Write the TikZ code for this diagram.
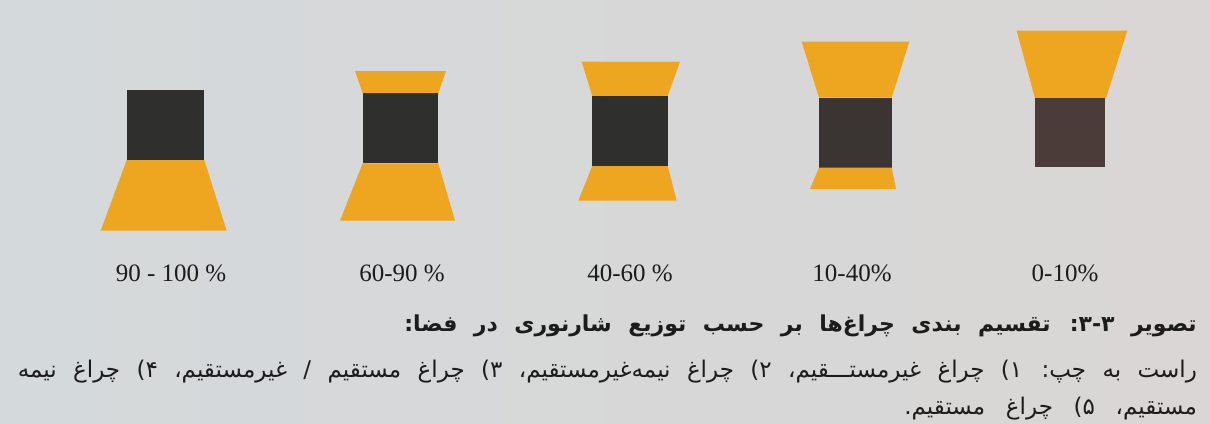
\documentclass[tikz,border=0pt]{standalone}
\usepackage{fontspec}
\setmainfont{Liberation Serif}
\newfontfamily\arabicfont[Script=Arabic]{DejaVu Sans}
\TeXXeTstate=1
\definecolor{lamporange}{HTML}{EEA620}
\definecolor{lampdark}{HTML}{2F2F2E}
\definecolor{lampdarkb}{HTML}{3A3433}
\definecolor{lampbrown}{HTML}{4B3B39}
\definecolor{inkgray}{HTML}{1C1C1C}
\definecolor{paperL}{HTML}{D4D9DB}
\definecolor{paperR}{HTML}{DAD6D5}
\begin{document}
\begin{tikzpicture}[x=1pt,y=-1pt,
  glow/.style={fill=lamporange},
  body/.style={fill=lampdark},
  pct/.style={font=\fontsize{25}{30}\selectfont, text=inkgray, anchor=base, inner sep=0pt},
  fa/.style={text=inkgray, anchor=base east, inner sep=0pt}]
\fill[left color=paperL,right color=paperR] (0,0) rectangle (1210,423);
\useasboundingbox (0,0) rectangle (1210,423);
% lamp 1
\fill[body] (126.7,90) rectangle (204.3,160);
\fill[glow] (126.7,160) -- (204.3,160) -- (226.7,230.7) -- (100.7,230.7) -- cycle;
% lamp 2
\fill[glow] (355,71) -- (446,71) -- (438.3,93.3) -- (362.7,93.3) -- cycle;
\fill[body] (362.7,93.3) rectangle (438.3,163.3);
\fill[glow] (362.7,163.3) -- (438.3,163.3) -- (455,220.7) -- (340,220.7) -- cycle;
% lamp 3
\fill[glow] (581.7,61.7) -- (680,61.7) -- (667.7,96) -- (592.3,96) -- cycle;
\fill[body] (592.3,96) rectangle (667.7,166);
\fill[glow] (592.3,166) -- (667.7,166) -- (676.7,200.7) -- (578.3,200.7) -- cycle;
% lamp 4
\fill[glow] (801.7,41.7) -- (909.3,41.7) -- (891.7,97.7) -- (819,97.7) -- cycle;
\fill[body, fill=lampdarkb] (819,97.7) rectangle (891.7,167.7);
\fill[glow] (819,167.7) -- (891.7,167.7) -- (896,189) -- (810,189) -- cycle;
% lamp 5
\fill[glow] (1016.7,30.7) -- (1127.3,30.7) -- (1106,98.3) -- (1035,98.3) -- cycle;
\fill[body, fill=lampbrown] (1035,98.3) rectangle (1105,166.7);
% labels
\node[pct] (p1) at (171,281) {90 - 100 \%};
\node[pct] (p2) at (402,281) {60-90 \%};
\node[pct] (p3) at (630,281) {40-60 \%};
\node[pct] (p4) at (852,281) {10-40\%};
\node[pct] (p5) at (1065,281) {0-10\%};
% caption
\node[fa, font=\arabicfont\bfseries\fontsize{22}{26}\selectfont] (cap1) at (1197,331)
  {\spaceskip=0.75em plus 0.2em minus 0.1em\relax
   \beginR تصویر ۳-۳: تقسیم بندی چراغ‌ها بر حسب توزیع شارنوری در فضا:\endR};
\node[fa, font=\arabicfont\fontsize{23}{28}\selectfont] (cap2) at (1197,377)
  {\spaceskip=0.75em plus 0.4em minus 0.1em\relax
   \hbox to 1179pt{\beginR راست به چپ: ۱) چراغ غیرمستـــقیم، ۲) چراغ نیمه‌غیرمستقیم، ۳) چراغ مستقیم / غیرمستقیم، ۴) چراغ نیمه\endR}};
\node[fa, font=\arabicfont\fontsize{23}{28}\selectfont] (cap3) at (1197,414)
  {\spaceskip=0.9em plus 0.2em minus 0.1em\relax
   \beginR مستقیم، ۵) چراغ مستقیم.\endR};
\end{tikzpicture}
\end{document}
